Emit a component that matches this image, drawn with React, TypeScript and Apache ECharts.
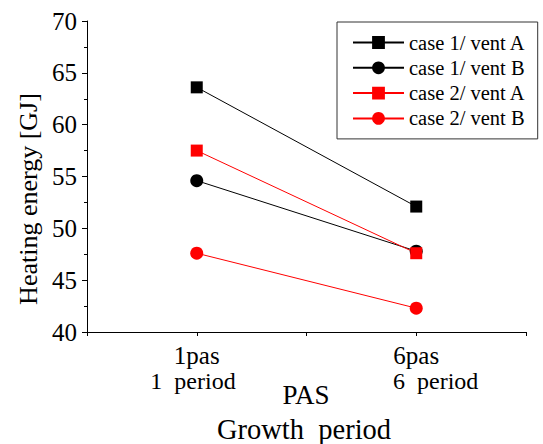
import React, { useEffect, useRef } from "react";
import * as echarts from "echarts";

const categories = ["1pas", "6pas"];
const categoryPos = [1, 3];
const periodLabels = ["1  period", "6  period"];
const seriesNames = ["case 1/ vent A", "case 1/ vent B", "case 2/ vent A", "case 2/ vent B"];
const case1VentA = [63.6, 52.1];
const case1VentB = [54.6, 47.8];
const case2VentA = [57.5, 47.6];
const case2VentB = [47.6, 42.3];
const yTitle = "Heating energy [GJ]";
const xTitle1 = "PAS";
const xTitle2 = "Growth  period";

const FONT = "Liberation Serif";

export default function App() {
  const ref = useRef<HTMLDivElement>(null);
  useEffect(() => {
    if (!ref.current) return;
    const chart = echarts.init(ref.current, undefined, { renderer: "svg" });
    const values = [case1VentA, case1VentB, case2VentA, case2VentB];
    const colors = ["#000000", "#000000", "#ff0000", "#ff0000"];
    const symbols = ["rect", "circle", "rect", "circle"];
    const series = seriesNames.map((name, i) => ({
      name,
      type: "line",
      data: values[i].map((v, j) => [categoryPos[j], v]),
      symbol: symbols[i],
      symbolSize: symbols[i] === "rect" ? 12 : 13,
      itemStyle: { color: colors[i] },
      lineStyle: { color: colors[i], width: 1 },
    }));
    chart.setOption({
      animation: false,
      textStyle: { fontFamily: FONT },
      grid: { left: 87, right: 17, top: 21, bottom: 112 },
      legend: {
        orient: "vertical",
        left: 337,
        top: 22,
        padding: [10, 12, 10, 15],
        itemWidth: 51,
        itemHeight: 16,
        itemGap: 4.3,
        borderColor: "#333",
        borderWidth: 1,
        backgroundColor: "#fff",
        textStyle: { fontFamily: FONT, fontSize: 20.5, color: "#000", lineHeight: 19 },
        data: seriesNames,
      },
      xAxis: {
        type: "value",
        min: 0,
        max: 4,
        interval: 1,
        splitLine: { show: false },
        axisLine: { lineStyle: { color: "#000", width: 1 } },
        axisTick: { show: true, inside: false, length: 4, lineStyle: { color: "#000" } },
        axisLabel: {
          margin: 12,
          fontSize: 25,
          lineHeight: 22,
          color: "#000",
          fontFamily: FONT,
          showMinLabel: true,
          showMaxLabel: true,
          formatter: (v: number) => {
            const idx = categoryPos.indexOf(v);
            return idx >= 0 ? categories[idx] : "";
          },
        },
      },
      yAxis: {
        type: "value",
        min: 40,
        max: 70,
        interval: 5,
        splitLine: { show: false },
        axisLine: { show: true, lineStyle: { color: "#000", width: 1 } },
        axisTick: { show: true, inside: false, length: 5, lineStyle: { color: "#000" } },
        minorTick: { show: true, splitNumber: 2, length: 3, lineStyle: { color: "#000" } },
        axisLabel: { margin: 10, fontSize: 25, color: "#000", fontFamily: FONT },
      },
      graphic: [
        {
          type: "text",
          x: 193,
          y: 381,
          style: { text: periodLabels[0], font: `24px "${FONT}"`, lineHeight: 20, fill: "#000", align: "center", verticalAlign: "middle" },
        },
        {
          type: "text",
          x: 393,
          y: 381,
          style: { text: periodLabels[1], font: `24px "${FONT}"`, lineHeight: 20, fill: "#000", align: "left", verticalAlign: "middle" },
        },
        {
          type: "text",
          x: 306,
          y: 395,
          style: { text: xTitle1, font: `27px "${FONT}"`, fill: "#000", align: "center", verticalAlign: "middle" },
        },
        {
          type: "text",
          x: 304,
          y: 429,
          style: { text: xTitle2, font: `28.5px "${FONT}"`, fill: "#000", align: "center", verticalAlign: "middle" },
        },
        {
          type: "text",
          x: 28,
          y: 199,
          rotation: Math.PI / 2,
          style: { text: yTitle, font: `26px "${FONT}"`, fill: "#000", align: "center", verticalAlign: "middle" },
        },
      ],
      series,
    });
    return () => chart.dispose();
  }, []);
  return <div ref={ref} style={{ width: 543, height: 444, position: "absolute", left: 0, top: 0 }} />;
}
